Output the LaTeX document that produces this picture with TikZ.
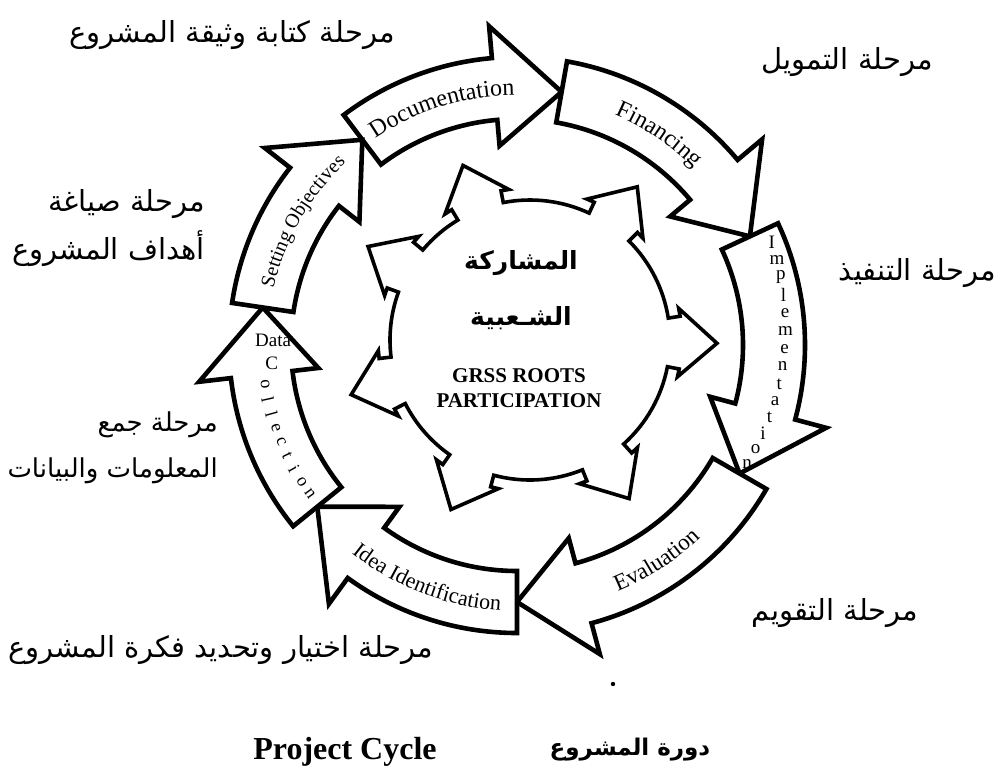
\documentclass[tikz,border=0pt]{standalone}
\usepackage{fontspec}
\setmainfont{Liberation Serif}
\newfontfamily\arabicfont[Script=Arabic]{DejaVu Sans}
\TeXXeTstate=1
\usetikzlibrary{calc,decorations.text}

\newcommand{\artext}[1]{\beginR #1\endR}
\tikzset{
  stagearrow/.style={draw, fill=white, line width=4.6pt, miter limit=4},
  hubshape/.style={draw, fill=white, line width=3.6pt, miter limit=4},
  phase/.style={font=\arabicfont\fontsize{29}{48}\selectfont, align=right, inner sep=0pt},
  letter/.style={font=\fontsize{19}{19}\selectfont, inner sep=0pt},
}

\begin{document}
\begin{tikzpicture}[x=1pt, y=1pt]
\useasboundingbox (0,0) rectangle (1002,-777);
\coordinate (C) at (517,-345);
\coordinate (M) at (530,-340);

% the seven stages, clockwise
\foreach \ta/\tb in {127/80, 80/25, 25/-30, -30/-90, -90/-141, -141/-188.4, 171.6/127}{
  \pgfmathsetmacro\hb{\tb+15}
  \draw[stagearrow] ($(C)+(\ta:288)$) arc[start angle=\ta, end angle=\hb, radius=288]
    -- ($(C)+(\hb:320)$) -- ($(C)+(\tb:257)$) -- ($(C)+(\hb:200)$)
    -- ($(C)+(\hb:226)$) arc[start angle=\hb, end angle=\ta, radius=226] -- cycle;
}

% hub with outward heads
\def\hubpath{}
\foreach \a/\n in {-1/55, 55/111, 111/150, 150/197, 197/245, 245/302, 302/359}{
  \pgfmathsetmacro\sa{\a-10}\pgfmathsetmacro\ba{\a-13}
  \pgfmathsetmacro\bb{\a+13}\pgfmathsetmacro\sb{\a+10}
  \pgfmathsetmacro\ea{\n-10}
  \xdef\hubpath{\hubpath -- ($(M)+(\sa:140)$) -- ($(M)+(\sa:152)$) -- ($(M)+(\ba:152)$)
    -- ($(M)+(\a:187)$) -- ($(M)+(\bb:152)$) -- ($(M)+(\sb:152)$) -- ($(M)+(\sb:140)$)
    arc[start angle=\sb, end angle=\ea, radius=140]}
}
\draw[hubshape] ($(M)+(-11:140)$) \hubpath -- cycle;

% stage names on the arrows
\path[decorate, decoration={text along path, text align=center,
  text={|\fontsize{24}{24}\selectfont|Documentation}}]
  ($(C)+(127:250)$) arc[start angle=127, end angle=88, radius=250];
\path[decorate, decoration={text along path, text align=center,
  text={|\fontsize{24}{24}\selectfont|Financing}}]
  ($(C)+(78:250)$) arc[start angle=78, end angle=34, radius=250];
\path[decorate, decoration={text along path, text align=center,
  text={|\fontsize{20}{20}\selectfont|Setting Objectives}}]
  ($(C)+(170:250)$) arc[start angle=170, end angle=130, radius=250];
\path[decorate, decoration={text along path, text align=center,
  text={|\fontsize{23}{23}\selectfont|Evaluation}}]
  ($(C)+(-80:266)$) arc[start angle=-80, end angle=-34, radius=266];
\path[decorate, decoration={text along path, text align=center,
  text={|\fontsize{22}{22}\selectfont|Idea Identification}}]
  ($(C)+(-133:266)$) arc[start angle=-133, end angle=-89, radius=266];
\foreach \l [count=\i] in {I,m,p,l,e,m,e,n,t,a,t,i,o,n}
  \node[letter] (impl\i) at ($(C)+({25.8-\i*3.8}:{276-\i*1.2})$) {\l};
\node[letter] (data) at ($(C)+(178.8:244)$) {Data};
\node[letter] (coll) at ($(C)+(184.2:246)$) {C};
\foreach \l [count=\i] in {o,l,l,e,c,t,i,o,n}
  \node[letter, font=\fontsize{18}{18}\selectfont, rotate={185.6+\i*3.35+90}] (coll\i)
    at ($(C)+({185.6+\i*3.35}:255)$) {\l};

% centre text
\node[font=\arabicfont\bfseries\fontsize{25}{56}\selectfont, align=center] (hubar) at (521,-290)
  {\artext{المشاركة}\\\artext{الشـعبية}};
\node[font=\bfseries\fontsize{21}{25}\selectfont, align=center] (hubtxt) at (519,-388)
  {GRSS ROOTS\\PARTICIPATION};

% phase labels
\node[phase] (ph1) at (232,-35) {\artext{مرحلة كتابة وثيقة المشروع}};
\node[phase] (ph2) at (847,-62) {\artext{مرحلة التمويل}};
\node[phase, anchor=east] (ph3) at (205,-228) {\artext{مرحلة صياغة}\\\artext{أهداف المشروع}};
\node[phase, anchor=east] (ph4) at (996,-273) {\artext{مرحلة التنفيذ}};
\node[phase, anchor=east, font=\arabicfont\fontsize{26}{46}\selectfont] (ph5) at (218,-448)
  {\artext{مرحلة جمع}\\\artext{المعلومات والبيانات}};
\node[phase] (ph6) at (835,-613) {\artext{مرحلة التقويم}};
\node[phase, anchor=west] (ph7) at (8,-650) {\artext{مرحلة اختيار وتحديد فكرة المشروع}};

% caption
\fill (613,-684) circle (2.2);
\node[font=\bfseries\fontsize{32}{32}\selectfont] (title) at (345,-752) {Project Cycle};
\node[font=\arabicfont\bfseries\fontsize{23}{23}\selectfont] (titlear) at (630,-750) {\artext{دورة المشروع}};
\end{tikzpicture}
\end{document}
